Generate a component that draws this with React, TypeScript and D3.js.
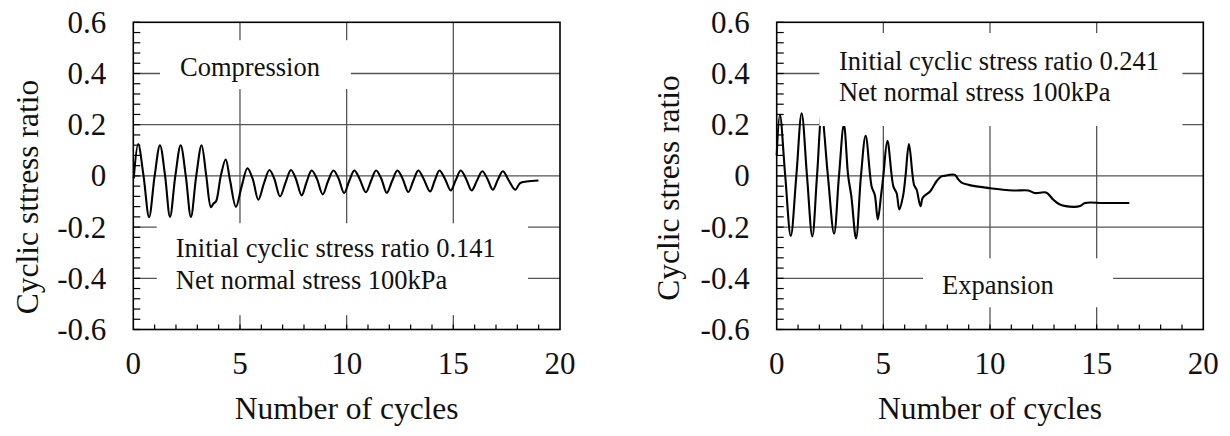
import React from 'react'
import * as d3 from 'd3'

const width = 1230
const height = 436

// compression test: number of cycles / cyclic stress ratio
const compCycles = [
  0.02, 0.23, 0.48, 0.74, 1.0, 1.25, 1.49, 1.72, 1.97, 2.22, 2.46, 2.7, 2.95, 3.2, 3.42, 3.64, 3.76, 3.88,
  4.1, 4.33, 4.53, 4.81, 5.08, 5.35, 5.6, 5.86, 6.12, 6.38, 6.6, 6.88, 7.14, 7.39, 7.61, 7.89, 8.13, 8.36,
  8.6, 8.88, 9.13, 9.38, 9.62, 9.88, 10.12, 10.36, 10.6, 10.9, 11.14, 11.38, 11.62, 11.88, 12.13, 12.38,
  12.62, 12.89, 13.12, 13.36, 13.6, 13.91, 14.13, 14.35, 14.6, 14.88, 15.11, 15.35, 15.6, 15.86, 16.11,
  16.36, 16.6, 16.85, 17.08, 17.32, 17.58, 17.9, 18.13, 18.44, 18.99,
]
const compRatio = [
  -0.01, 0.124, 0.0, -0.161, 0.0, 0.12, 0.0, -0.16, 0.0, 0.12, 0.0, -0.16, 0.0, 0.12, 0.0, -0.122, -0.108, -0.099,
  0.0, 0.064, -0.015, -0.121, -0.04, 0.03, -0.013, -0.093, -0.03, 0.023, -0.009, -0.08, -0.025, 0.023, -0.009, -0.076, -0.022, 0.021,
  -0.01, -0.072, -0.02, 0.021, -0.01, -0.067, -0.02, 0.021, -0.01, -0.064, -0.02, 0.021, -0.01, -0.066, -0.02, 0.021,
  -0.01, -0.063, -0.02, 0.021, -0.01, -0.061, -0.018, 0.021, -0.01, -0.057, -0.017, 0.021, -0.012, -0.057, -0.018,
  0.018, -0.012, -0.054, -0.016, 0.018, -0.015, -0.054, -0.028, -0.022, -0.018,
]

// expansion test
const expCycles = [
  0.0, 0.15, 0.4, 0.66, 0.92, 1.17, 1.42, 1.67, 1.89, 2.11, 2.4, 2.69, 2.92, 3.15, 3.35, 3.5, 3.72, 3.95,
  4.17, 4.45, 4.6, 4.74, 4.9, 5.0, 5.19, 5.47, 5.62, 5.75, 5.92, 6.04, 6.2, 6.44, 6.56, 6.74, 6.85, 7.2,
  7.5, 7.7, 7.85, 8.35, 8.5, 8.65, 9.0, 10.0, 11.09, 11.8, 12.11, 12.63, 12.97, 13.28, 13.91, 14.22, 14.45,
  15.31, 16.53,
]
const expRatio = [
  0.08, 0.24, 0.0, -0.235, 0.0, 0.245, 0.0, -0.237, 0.0, 0.24, 0.0, -0.226, 0.0, 0.2, 0.0, -0.08, -0.244, 0.0,
  0.157, -0.041, -0.075, -0.17, -0.07, 0.0, 0.137, -0.041, -0.067, -0.131, -0.08, 0.0, 0.124, -0.035, -0.054, -0.118, -0.085, -0.06,
  -0.02, -0.003, 0.0, 0.004, -0.012, -0.025, -0.035, -0.048, -0.057, -0.057, -0.067, -0.065, -0.093, -0.112, -0.121, -0.118, -0.106,
  -0.106, -0.106,
]

const xTicks = [0, 5, 10, 15, 20]
const yTicks = [-0.6, -0.4, -0.2, 0, 0.2, 0.4, 0.6]
const yTickText = ['-0.6', '-0.4', '-0.2', '0', '0.2', '0.4', '0.6']

const font = '"Liberation Serif", "Times New Roman", serif'
const grey = '#555'

function Panel({ x0, x1, cycles, ratio, yTitle, titleX, titleMid, boxes, notes }) {
  const x = d3.scaleLinear().domain([0, 20]).range([x0, x1])
  const y = d3.scaleLinear().domain([-0.6, 0.6]).range([329.5, 22.3])
  const pts = cycles.map((c, i) => [c, ratio[i]])
  const line = d3.line()
    .x(d => x(d[0]))
    .y(d => y(d[1]))
    .curve(d3.curveCatmullRom.alpha(0.5))
  const minorY = d3.range(0, 31).map(i => -0.6 + i * 0.04)
  const minorX = d3.range(1, 20)
  const [top, bottom] = [y(0.6), y(-0.6)]

  return (
    <g>
      {/* grid */}
      {[5, 10, 15].map(v => (
        <line key={'gx' + v} x1={x(v)} x2={x(v)} y1={top} y2={bottom} stroke={grey} strokeWidth={1.3} />
      ))}
      {[-0.4, -0.2, 0, 0.2, 0.4].map(v => (
        <line key={'gy' + v} x1={x0} x2={x1} y1={y(v)} y2={y(v)} stroke={grey} strokeWidth={1.3} />
      ))}

      <path d={line(pts)} fill="none" stroke="#000" strokeWidth={2.1} strokeLinejoin="round" />

      {/* white label boxes knock out grid */}
      {boxes.map((b, i) => (
        <rect key={'b' + i} x={x(b[0])} y={y(b[3])} width={x(b[1]) - x(b[0])} height={y(b[2]) - y(b[3])} fill="#fff" />
      ))}
      {notes.map((n, i) => (
        <text key={'n' + i} x={x(n.x)} y={y(n.y)} fontSize={26.5} fontFamily={font} fill="#111">{n.text}</text>
      ))}

      {/* frame and ticks */}
      <rect x={x0} y={top} width={x1 - x0} height={bottom - top} fill="none" stroke="#000" strokeWidth={1.6} />
      {minorY.map((v, i) => (
        <line key={'ty' + i} x1={x0} x2={x0 + 7} y1={y(v)} y2={y(v)} stroke="#000" strokeWidth={1.2} />
      ))}
      {minorX.map(v => (
        <line key={'tx' + v} x1={x(v)} x2={x(v)} y1={bottom} y2={bottom - 5} stroke="#000" strokeWidth={1.2} />
      ))}

      {yTicks.map((v, i) => (
        <text key={'ly' + i} x={x0 - 27} y={y(v)} dy="0.34em" textAnchor="end" fontSize={31} fontFamily={font} fill="#111">
          {yTickText[i]}
        </text>
      ))}
      {xTicks.map(v => (
        <text key={'lx' + v} x={x(v)} y={374} textAnchor="middle" fontSize={31} fontFamily={font} fill="#111">{v}</text>
      ))}
      <text x={(x0 + x1) / 2} y={419} textAnchor="middle" fontSize={31.5} fontFamily={font} fill="#111">Number of cycles</text>
      <text transform={`translate(${titleX},${titleMid}) rotate(-90)`} textAnchor="middle" fontSize={31.5} fontFamily={font} fill="#111">
        {yTitle}
      </text>
    </g>
  )
}

export default function App() {
  return (
    <svg width={width} height={height} style={{ position: 'absolute', left: 0, top: 0, background: '#fff' }}>
      <Panel
        x0={133.3}
        x1={560}
        cycles={compCycles}
        ratio={compRatio}
        yTitle="Cyclic sttress ratio"
        titleX={38}
        titleMid={197}
        boxes={[[1.25, 10.2, 0.339, 0.53], [1.1, 18.5, -0.544, -0.185]]}
        notes={[
          { x: 2.19, y: 0.39, text: 'Compression' },
          { x: 1.99, y: -0.317, text: 'Initial cyclic stress ratio 0.141' },
          { x: 1.99, y: -0.443, text: 'Net normal stress 100kPa' },
        ]}
      />
      <Panel
        x0={776.7}
        x1={1203.3}
        cycles={expCycles}
        ratio={expRatio}
        yTitle="Cyclic stress ratio"
        titleX={679}
        titleMid={188}
        boxes={[[2.0, 19.02, 0.195, 0.558], [6.86, 15.77, -0.513, -0.322]]}
        notes={[
          { x: 2.92, y: 0.413, text: 'Initial cyclic stress ratio 0.241' },
          { x: 2.92, y: 0.292, text: 'Net normal stress 100kPa' },
          { x: 7.75, y: -0.46, text: 'Expansion' },
        ]}
      />
    </svg>
  )
}
